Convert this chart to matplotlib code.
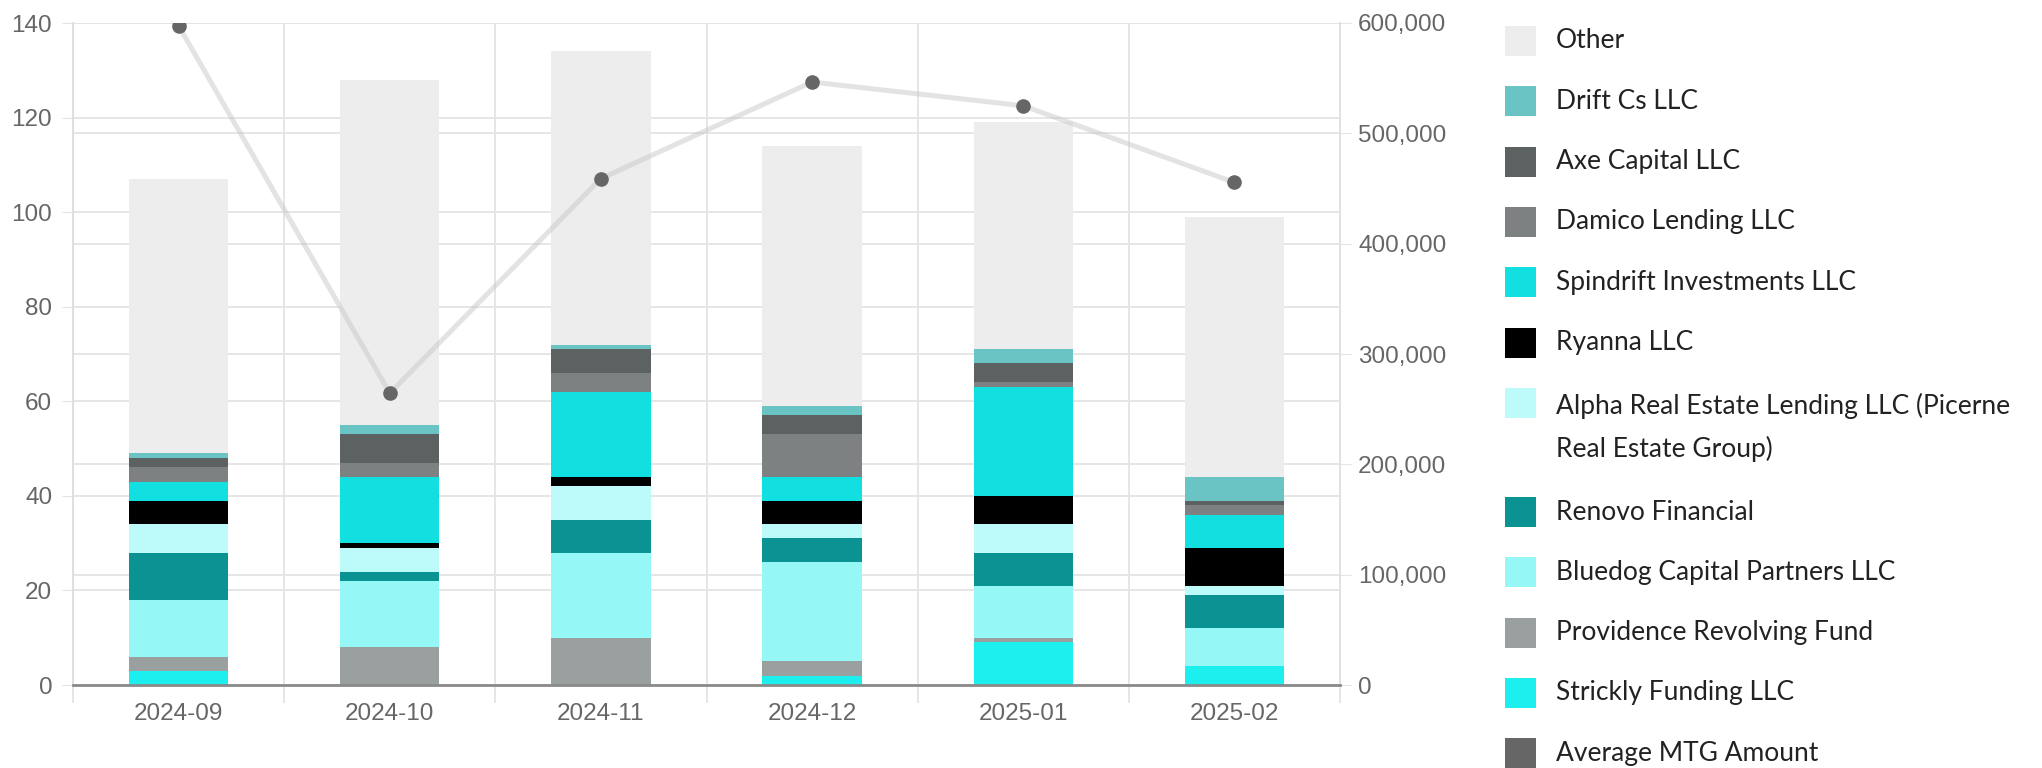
import matplotlib
matplotlib.use("Agg")
import matplotlib.pyplot as plt
from matplotlib.patches import Rectangle
import numpy as np

# ---- data ----
months = ["2024-09", "2024-10", "2024-11", "2024-12", "2025-01", "2025-02"]

# stacked from bottom to top
strickly = [3, 0, 0, 2, 9, 4]
providence = [3, 8, 10, 3, 1, 0]
bluedog = [12, 14, 18, 21, 11, 8]
renovo = [10, 2, 7, 5, 7, 7]
alpha = [6, 5, 7, 3, 6, 2]
ryanna = [5, 1, 2, 5, 6, 8]
spindrift = [4, 14, 18, 5, 23, 7]
damico = [3, 3, 4, 9, 1, 2]
axe = [2, 6, 5, 4, 4, 1]
drift = [1, 2, 1, 2, 3, 5]
other = [58, 73, 62, 55, 48, 55]

avg_mtg = [597500, 264500, 459000, 546500, 525000, 455500]

series = [
    ("Strickly Funding LLC", strickly, "#1DEEEE"),
    ("Providence Revolving Fund", providence, "#9AA0A0"),
    ("Bluedog Capital Partners LLC", bluedog, "#96F7F7"),
    ("Renovo Financial", renovo, "#0B9393"),
    ("Alpha Real Estate Lending LLC (Picerne\nReal Estate Group)", alpha, "#BDFBFB"),
    ("Ryanna LLC", ryanna, "#000000"),
    ("Spindrift Investments LLC", spindrift, "#12E0E0"),
    ("Damico Lending LLC", damico, "#7D8181"),
    ("Axe Capital LLC", axe, "#5C6262"),
    ("Drift Cs LLC", drift, "#6BC4C4"),
    ("Other", other, "#EDEDED"),
]
line_label = "Average MTG Amount"
line_color = "#666666"

W, H = 2042, 768
fig = plt.figure(figsize=(W / 100, H / 100), dpi=100)
rect = [73 / W, 83 / H, (1340 - 73) / W, (685 - 23) / H]

tick_font = "Liberation Sans"
tick_size = 17.5
grid_c = "#e4e4e4"
lab_c = "#666666"

# right axis (background, grid only + labels)
ax2 = fig.add_axes(rect, zorder=0)
ax2.set_xlim(-0.5, len(months) - 0.5)
ax2.set_ylim(0, 600000)
ax2.set_yticks(np.arange(0, 600001, 100000))
ax2.yaxis.tick_right()
ax2.set_yticklabels([f"{v:,}" for v in range(0, 600001, 100000)],
                    fontsize=tick_size, color=lab_c, family=tick_font)
ax2.tick_params(axis="y", length=8, color=grid_c, pad=5)
ax2.set_xticks([])
ax2.grid(axis="y", color=grid_c, linewidth=1.3)
for s in ["left", "top", "bottom"]:
    ax2.spines[s].set_visible(False)
ax2.spines["right"].set_color("#dddddd")
ax2.spines["right"].set_linewidth(1.3)

# bars axis
ax = fig.add_axes(rect, zorder=1)
ax.patch.set_alpha(0)
x = np.arange(len(months))
bottom = np.zeros(len(months))
for name, vals, col in series:
    ax.bar(x, vals, width=0.47, bottom=bottom, color=col, zorder=2)
    bottom += np.array(vals)
ax.set_xlim(-0.5, len(months) - 0.5)
ax.set_ylim(0, 140)
ax.set_yticks(np.arange(0, 141, 20))
ax.set_yticklabels([str(v) for v in range(0, 141, 20)], fontsize=tick_size,
                   color=lab_c, family=tick_font)
ax.tick_params(axis="y", length=8, color=grid_c, pad=7)
ax.set_xticks(x)
ax.set_xticklabels(months, fontsize=tick_size, color=lab_c, family=tick_font)
ax.set_xticks(np.arange(-0.5, len(months)), minor=True)
ax.tick_params(axis="x", which="major", length=0, pad=13)
ax.tick_params(axis="x", which="minor", length=13, color=grid_c, width=1.3)
ax.grid(axis="y", color=grid_c, linewidth=1.3, zorder=0)
ax.grid(axis="x", which="minor", color=grid_c, linewidth=1.3, zorder=0)
ax.set_axisbelow(True)
for s in ["top", "right"]:
    ax.spines[s].set_visible(False)
ax.spines["left"].set_color("#dddddd")
ax.spines["left"].set_linewidth(1.3)
ax.spines["bottom"].set_color("#8a8a8a")
ax.spines["bottom"].set_linewidth(2)

# line axis (on top)
ax3 = fig.add_axes(rect, zorder=2)
ax3.patch.set_alpha(0)
ax3.set_xlim(-0.5, len(months) - 0.5)
ax3.set_ylim(0, 600000)
ax3.plot(x, avg_mtg, color="#c8c8c8", alpha=0.5, linewidth=3.6,
         solid_capstyle="round", zorder=2)
ax3.plot(x, avg_mtg, linestyle="none", marker="o", markersize=9.5,
         color=line_color, zorder=3)
ax3.axis("off")

# legend drawn at the right
leg_font = "Lato"
leg_items = [(n, c) for n, _, c in series[::-1]] + [(line_label, line_color)]
y = 41
for name, col in leg_items:
    nlines = name.count("\n") + 1
    fig.patches.append(Rectangle((1505 / W, 1 - (y + 15) / H), 31 / W, 30 / H,
                                 transform=fig.transFigure, facecolor=col,
                                 edgecolor="none"))
    ty = y + (nlines - 1) * 49 / 2
    fig.text(1556 / W, 1 - ty / H, name, fontsize=19, family=leg_font,
             color="#222222", va="center", ha="left", linespacing=1.78)
    y += 60.3 + (nlines - 1) * 49

fig.savefig("out.png", dpi=100)
